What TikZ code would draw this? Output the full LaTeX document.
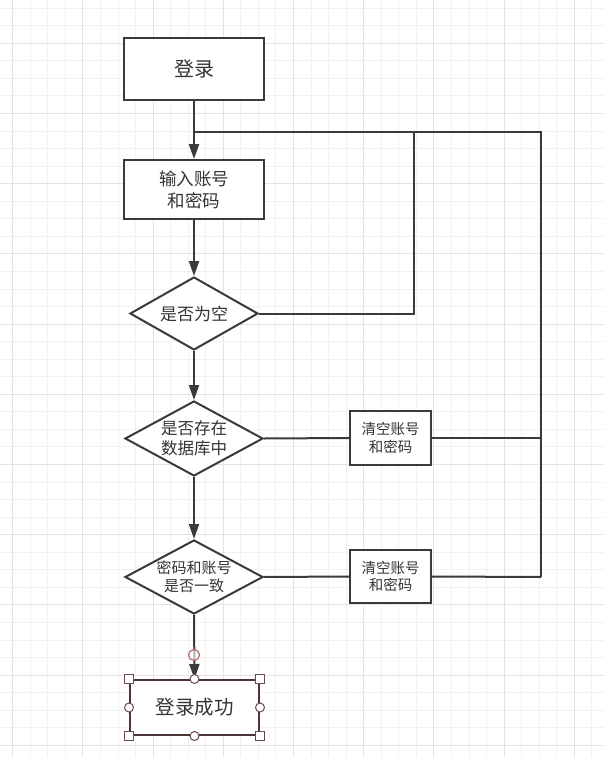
\documentclass[tikz,border=0pt]{standalone}
\usepackage{fontspec}
\setmainfont{Noto Sans CJK SC}
\usetikzlibrary{shapes.geometric,arrows.meta}
\definecolor{linec}{HTML}{3A3A3A}
\definecolor{txt}{HTML}{333333}
\definecolor{gminor}{HTML}{F1F1F1}
\definecolor{gmajor}{HTML}{E3E3E3}
\definecolor{selc}{HTML}{4A3434}
\definecolor{hcol}{HTML}{6A4A4A}
\definecolor{pinkc}{HTML}{B86A6A}
\tikzset{
  gridminor/.style={draw=gminor, line width=1pt},
  gridmajor/.style={draw=gmajor, line width=1pt},
  box/.style={rectangle, draw=linec, line width=2pt, fill=white, inner sep=0pt, align=center, text=txt},
  dia/.style={diamond, draw=linec, line width=2pt, fill=white, inner sep=0pt},
  conn/.style={draw=linec, line width=2pt},
  arr/.style={conn, -{Triangle[length=15pt,width=10pt]}},
  hsq/.style={rectangle, draw=hcol, fill=white, line width=1pt, minimum size=9pt, inner sep=0pt},
  hci/.style={circle, draw=hcol, fill=white, line width=1pt, minimum size=9pt, inner sep=0pt},
}
\begin{document}
\begin{tikzpicture}[x=1pt,y=-1pt]
\useasboundingbox (0,0) rectangle (604,757);
\fill[white] (0,0) rectangle (604,757);
% grid
\foreach \k in {0,...,33} {
  \pgfmathsetmacro\xx{12.7+17.55*\k}
  \draw[gridminor] (\xx,0) -- (\xx,757);
}
\foreach \k in {0,...,42} {
  \pgfmathsetmacro\yy{8.2+17.55*\k}
  \draw[gridminor] (0,\yy) -- (604,\yy);
}
\foreach \k in {0,...,8} {
  \pgfmathsetmacro\xx{12.7+70.2*\k}
  \draw[gridmajor] (\xx,0) -- (\xx,757);
}
\foreach \k in {0,...,10} {
  \pgfmathsetmacro\yy{43.3+70.2*\k}
  \draw[gridmajor] (0,\yy) -- (604,\yy);
}

% nodes
\node[box, minimum width=140pt, minimum height=62pt, font=\fontsize{20}{24}\selectfont] (login) at (194,69) {登录};
\node[box, minimum width=140pt, minimum height=59pt, font=\fontsize{17.5}{22}\selectfont] (input) at (194,189.5) {输入账号\\和密码};
\node[dia, minimum width=128pt, minimum height=73pt,
      label={[text=txt, font=\fontsize{17}{20}\selectfont]center:是否为空}] (d1) at (194,313.5) {};
\node[dia, minimum width=138pt, minimum height=75pt,
      label={[text=txt, align=center, font=\fontsize{16.5}{20}\selectfont]center:{是否存在\\数据库中}}] (d2) at (194,438.5) {};
\node[dia, minimum width=138pt, minimum height=74pt,
      label={[text=txt, align=center, font=\fontsize{15}{18}\selectfont]center:{密码和账号\\是否一致}}] (d3) at (194,577) {};
\node[box, minimum width=81pt, minimum height=54pt, font=\fontsize{14.5}{17.5}\selectfont] (c1) at (390.5,438) {清空账号\\和密码};
\node[box, minimum width=81pt, minimum height=53pt, font=\fontsize{14.5}{17.5}\selectfont] (c2) at (390.5,576.5) {清空账号\\和密码};
\node[box, draw=selc, minimum width=129pt, minimum height=55pt, font=\fontsize{19.5}{24}\selectfont] (ok) at (194.5,707.5) {登录成功};

% helper coordinates
\coordinate (jtop) at (194,132);
\coordinate (r1) at (414,132);
\coordinate (r2) at (541,132);
\coordinate (rb) at (541,577);

% connectors
\draw[arr] (login.south) -- (input.north);
\draw[arr] (input.south) -- (d1.north);
\draw[arr] (d1.south) -- (d2.north);
\draw[arr] (d2.south) -- (d3.north);
\draw[arr] (d3.south) -- (ok.north);
\draw[conn] (d1.east) -| (r1);
\draw[conn] (jtop) -- (r2) -- (rb);
\draw[conn] (d2.east) -- (c1.west);
\draw[conn] (c1.east) -- (c1.east -| rb);
\draw[conn] (d3.east) -- (c2.west);
\draw[conn] (c2.east) -- (rb);

% selection handles
\node[hsq] (hnw) at (ok.north west) {};
\node[hsq] (hne) at (ok.north east) {};
\node[hsq] (hsw) at (ok.south west) {};
\node[hsq] (hse) at (ok.south east) {};
\node[hci] (hn) at (ok.north) {};
\node[hci] (hs) at (ok.south) {};
\node[hci] (hw) at (ok.west) {};
\node[hci] (he) at (ok.east) {};
\node[circle, draw=pinkc, fill=white, fill opacity=0.6, draw opacity=1, line width=1.2pt, minimum size=11pt, inner sep=0pt] (hconn) at (194,655) {};
\end{tikzpicture}
\end{document}
